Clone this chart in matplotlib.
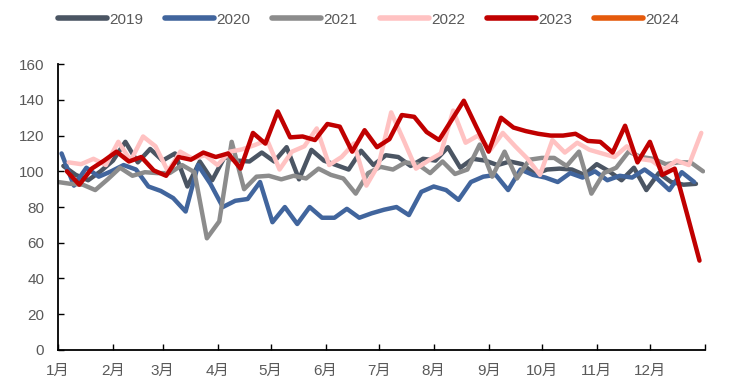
import matplotlib
matplotlib.use("Agg")
import matplotlib.pyplot as plt
from matplotlib import font_manager
import numpy as np
import pandas as pd

# weekly index values (one point per Friday of each year)
y2019 = [103, 98, 95, 100, 106, 116.5, 105, 112.5, 106, 110, 91.5, 105.5, 95,
         108, 106, 105.5, 110.5, 105.5, 113.5, 95.5, 112, 106, 103.5, 101,
         111.5, 103.5, 109, 108, 103, 107, 106, 113.5, 102, 107, 106, 103.5,
         105.5, 104, 98.5, 101, 101.5, 101, 98, 104, 100, 95, 102, 89.5, 99,
         94, 92.5, 93]
y2020 = [110, 92, 102, 97, 100, 103.5, 101, 91.5, 89, 85, 77.5, 103.5, 93, 80,
         83.5, 84.5, 94, 71.5, 80, 70.5, 80, 74, 74, 79, 74, 76.5, 78.5, 80,
         75.5, 88.5, 91.5, 89.5, 84, 94, 97, 98, 89.5, 101, 98, 96.5, 94, 99,
         96.5, 100, 95, 97.5, 96.5, 101, 96, 89.5, 99.5, 94]
y2021 = [94, 93, 92.5, 89.5, 95.5, 102, 97.5, 99.5, 99, 99, 103.5, 99.5, 62.5,
         72, 116.5, 90, 97, 97.5, 95.5, 97.5, 96, 101.5, 98, 96, 87.5, 99,
         102.5, 101, 105, 104, 99, 105.5, 98.5, 101, 115, 97, 111, 96, 106.5,
         107.5, 107.5, 103, 111, 87.5, 99, 102, 111, 108, 107, 104, 105, 105,
         100]
y2022 = [105, 104, 107, 103.5, 116.5, 106, 119.5, 114, 100, 111, 107, 109,
         103.5, 111, 112.3, 114.7, 117.5, 101, 111, 114, 124, 103.5, 108, 115.6,
         92, 104, 133, 117.5, 101.5, 106, 110, 134, 116, 120, 112, 121.5, 114,
         107, 98, 117.5, 110.5, 116, 112, 110, 108, 114, 107, 106, 101, 106,
         103.5, 121.5]
y2023 = [100, 92.5, 101.5, 106, 111, 105.5, 108, 100.5, 97.5, 108, 106.5,
         110.5, 108, 110, 101.5, 121.5, 115.5, 133.5, 119, 119.5, 117.5, 126.5,
         125, 111, 123, 113.5, 118, 131.5, 130.5, 122, 117.5, 128.5, 139.5, 125,
         111, 130, 124.5, 122.5, 121, 120, 120, 121, 117, 116.5, 110.5, 125.5,
         105, 116.5, 98, 101.5, 76, 50]
y2024 = []

years = [2019, 2020, 2021, 2022, 2023, 2024]
series = [y2019, y2020, y2021, y2022, y2023, y2024]
COLORS = ["#4b5563", "#41659d", "#8c8c8c", "#ffc2c2", "#c00000", "#e55a0c"]

month_labels = [f"{m}月" for m in range(1, 13)]
month_starts = [0, 31, 59, 90, 120, 151, 181, 212, 243, 273, 304, 334, 365]


def pick_font():
    for name in ["Liberation Sans Narrow", "Liberation Sans"]:
        try:
            font_manager.findfont(name, fallback_to_default=False)
            return name
        except Exception:
            pass
    return "DejaVu Sans"


BASE = pick_font()
NARROW = BASE == "Liberation Sans Narrow"
FONT = [BASE, "Noto Sans CJK SC"]
TXT = "#595959"


def fridays(year, n):
    d = pd.date_range(f"{year}-01-01", f"{year}-12-31", freq="W-FRI")[:n]
    return d.dayofyear.values - 1


fig = plt.figure(figsize=(7.3, 3.91), dpi=100)
ax = fig.add_axes([0.0795, 0.105, 0.886, 0.731])

for yr, vals, c in zip(years, series, COLORS):
    x = fridays(yr, len(vals))
    ax.plot(x, vals, color=c, lw=3.2, solid_capstyle="round",
            solid_joinstyle="round", label=str(yr))

ax.set_xlim(0, 365)
ax.set_ylim(0, 160)
ax.set_yticks(np.arange(0, 161, 20))
ax.set_xticks(month_starts)
ax.set_xticklabels(month_labels + [""])

for s in ["top", "right"]:
    ax.spines[s].set_visible(False)
for s in ["left", "bottom"]:
    ax.spines[s].set_linewidth(1.3)
    ax.spines[s].set_color("black")
tsize = 12.5 if NARROW else 11
ax.tick_params(axis="both", direction="in", length=4, width=1.0,
               colors="black", labelcolor=TXT, labelsize=tsize)
ax.tick_params(axis="x", pad=10)
ax.tick_params(axis="y", pad=10)
for lab in ax.get_xticklabels() + ax.get_yticklabels():
    lab.set_family(FONT)

lsize = 12.5 if NARROW else 11
leg = fig.legend(loc="center", bbox_to_anchor=(0.505, 0.95), ncol=6,
                 frameon=False, handlelength=3.2 * 11 / lsize,
                 handletextpad=0.15, columnspacing=1.45 * 11 / lsize,
                 prop={"family": FONT, "size": lsize})
for t in leg.get_texts():
    t.set_color(TXT)
for h in leg.get_lines():
    h.set_linewidth(4)

fig.savefig("out.png", dpi=100)
